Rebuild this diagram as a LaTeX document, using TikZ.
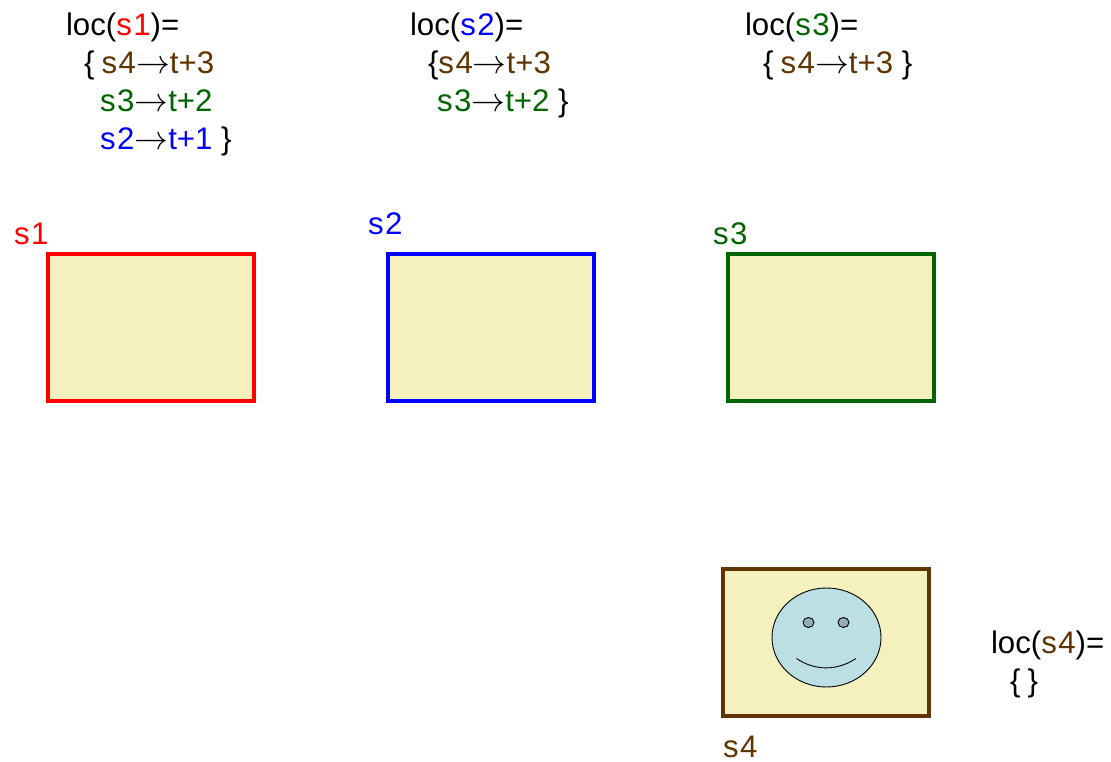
\documentclass[tikz,border=0pt]{standalone}
\usepackage{fontspec}
\setmainfont{Liberation Sans}
\definecolor{cone}{RGB}{255,0,0}
\definecolor{ctwo}{RGB}{0,0,255}
\definecolor{cthree}{RGB}{0,100,0}
\definecolor{cfour}{RGB}{96,52,0}
\definecolor{paper}{RGB}{244,241,190}
\definecolor{face}{RGB}{188,223,228}
\definecolor{eye}{RGB}{150,175,180}
\newcommand{\arr}{\raisebox{0.02em}{\scalebox{1.36}[1.36]{$\rightarrow$}}}
\newcommand{\sd}{\kern1.5pt}
\tikzset{
  txt/.style={anchor=base west,inner sep=0pt,outer sep=0pt,font=\fontsize{31.2}{31.2}\selectfont},
  panel/.style={fill=paper,line width=4pt,minimum width=206pt,minimum height=147pt,inner sep=0pt,outer sep=0pt,anchor=north west},
  headshape/.style={ellipse,draw=black,line width=0.9pt,inner sep=0pt},
}
\usetikzlibrary{shapes.geometric}
\begin{document}
\begin{tikzpicture}[x=1pt,y=-1pt]
\useasboundingbox (0,0) rectangle (1111,762);
% panels
\node[panel,draw=cone] (b1) at (48,253.5) {};
\node[panel,draw=ctwo] (b2) at (388,253.5) {};
\node[panel,draw=cthree] (b3) at (728,253.5) {};
\node[panel,draw=cfour] (b4) at (723,568.5) {};
% face
\node[headshape,fill=face,minimum width=109pt,minimum height=99pt] (head) at (826.5,637.5) {};
\node[headshape,fill=eye,minimum width=11pt,minimum height=10pt] (eyeL) at (808.5,622.5) {};
\node[headshape,fill=eye,minimum width=11pt,minimum height=10pt] (eyeR) at (843.5,622.5) {};
\coordinate (sl) at (796.5,658.5);
\coordinate (sr) at (856,658.5);
\draw[line width=0.9pt] (sl) .. controls (815,671) and (837,671) .. (sr);
% box labels
\node[txt,text=cone] (l1) at (14,244) {s\sd 1};
\node[txt,text=ctwo] (l2) at (368,234) {s\sd 2};
\node[txt,text=cthree] (l3) at (713,244) {s\sd 3};
\node[txt,text=cfour] (l4) at (723,757) {s\sd 4};
% loc s1
\node[txt] (a0) at (66,36) {loc(\textcolor{cone}{s\sd 1})=};
\node[txt] (a1) at (84,74) {\{\kern-1.5pt\ \textcolor{cfour}{s\sd 4}\arr\textcolor{cfour}{t+3}};
\node[txt,text=cthree] (a2) at (100,112) {s\sd 3\textcolor{black}{\arr}t+2};
\node[txt] (a3) at (100,150) {\textcolor{ctwo}{s\sd 2}\arr\textcolor{ctwo}{t+1} \}};
% loc s2
\node[txt] (c0) at (410,36) {loc(\textcolor{ctwo}{s\sd 2})=};
\node[txt] (c1) at (428,74) {\{\textcolor{cfour}{s\sd 4}\arr\textcolor{cfour}{t+3}};
\node[txt] (c2) at (437,112) {\textcolor{cthree}{s\sd 3}\arr\textcolor{cthree}{t+2} \}};
% loc s3
\node[txt] (d0) at (745,36) {loc(\textcolor{cthree}{s\sd 3})=};
\node[txt] (d1) at (763,74) {\{\kern-1.5pt\ \textcolor{cfour}{s\sd 4}\arr\textcolor{cfour}{t+3} \}};
% loc s4
\node[txt] (e0) at (991,653) {loc(\textcolor{cfour}{s\sd 4})=};
\node[txt] (e1) at (1010,691) {\{\kern-1.5pt\ \}};
\end{tikzpicture}
\end{document}
